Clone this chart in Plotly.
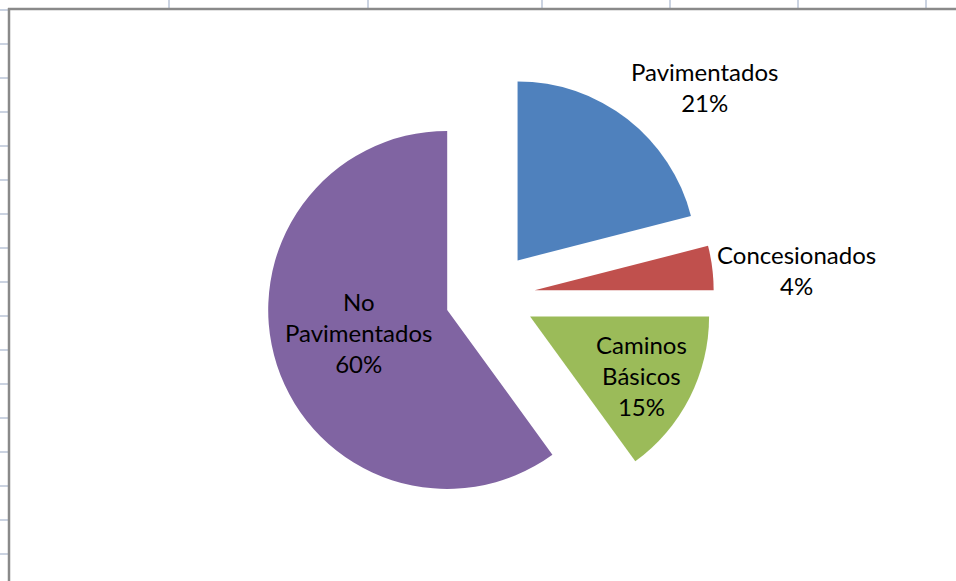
import math
import plotly.graph_objects as go

# ---------------- Data ----------------
categories = ["Pavimentados", "Concesionados", "Caminos Básicos", "No Pavimentados"]
label_lines = ["Pavimentados", "Concesionados", "Caminos<br>Básicos", "No<br>Pavimentados"]
values = [21, 4, 15, 60]
colors = ["#4F81BD", "#C0504D", "#9BBB59", "#8064A2"]
label_modes = ["outside", "outside", "inside", "inside"]
inside_radius_factor = [0.0, 0.0, 0.70, 0.51]
label_nudge_px = [(0, 2), (0, 2), (0, 2), (-2, -6)]

# Spreadsheet grid stubs visible around the chart frame (pixel positions)
grid_cols_px = [169, 368, 542, 670, 798, 926]
grid_rows_px = [10, 44, 78, 112, 146, 180, 214, 248, 282, 316, 350, 384, 418, 452, 486, 520, 554]

# ---------------- Layout constants ----------------
W, H = 956, 581
FONT = "Lato"
FS = 24
CX, CY = 490.0, 296.0      # pie centre (px)
R = 179.0                  # slice radius (px)
PULL = 0.2514              # explosion as a fraction of radius
GAP = 3.0


def px_x(x):
    return x / W


def px_y(y):
    return 1 - y / H


ext = R * (1 + PULL)
domain = dict(x=[px_x(CX - ext), px_x(CX + ext)], y=[px_y(CY + ext), px_y(CY - ext)])

fig = go.Figure()
fig.add_trace(go.Pie(
    labels=categories,
    values=values,
    marker=dict(colors=colors, line=dict(width=0)),
    pull=[PULL] * len(values),
    sort=False,
    direction="clockwise",
    rotation=0,
    textinfo="none",
    domain=domain,
    hoverinfo="label+percent",
    showlegend=False,
))

# Data labels placed from the pie geometry
total = float(sum(values))
annotations = []
cum = 0.0
for lines, v, mode, f, (ndx, ndy) in zip(label_lines, values, label_modes,
                                         inside_radius_factor, label_nudge_px):
    mid = math.radians((cum + v / 2.0) / total * 360.0)
    cum += v
    ux, uy = math.sin(mid), -math.cos(mid)
    ax, ay = CX + PULL * R * ux, CY + PULL * R * uy
    txt = f"{lines}<br>{round(100 * v / total)}%"
    if mode == "inside":
        x, y = ax + f * R * ux, ay + f * R * uy
        xa, ya = "center", "middle"
    else:
        x, y = ax + (R + GAP) * ux, ay + (R + GAP) * uy
        xa = "left" if ux > 0 else "right"
        ya = "middle" if abs(uy) < 0.5 else ("bottom" if uy < 0 else "top")
    annotations.append(dict(
        x=px_x(x + ndx), y=px_y(y + ndy), xref="paper", yref="paper",
        text=txt, showarrow=False, xanchor=xa, yanchor=ya, align="center",
        font=dict(family=FONT, size=FS, color="#000000"),
    ))

shapes = []
grid_color = "#CBD3E1"
for gx in grid_cols_px:
    shapes.append(dict(type="line", xref="paper", yref="paper",
                       x0=px_x(gx), x1=px_x(gx), y0=1, y1=px_y(8),
                       line=dict(color=grid_color, width=2)))
for gy in grid_rows_px:
    shapes.append(dict(type="line", xref="paper", yref="paper",
                       x0=0, x1=px_x(8), y0=px_y(gy), y1=px_y(gy),
                       line=dict(color=grid_color, width=2)))
# chart frame
shapes.append(dict(type="line", xref="paper", yref="paper",
                   x0=px_x(8), x1=1.0, y0=px_y(9), y1=px_y(9),
                   line=dict(color="#8A8A8A", width=2.5)))
shapes.append(dict(type="line", xref="paper", yref="paper",
                   x0=px_x(9), x1=px_x(9), y0=px_y(8), y1=0,
                   line=dict(color="#8A8A8A", width=2.5)))

fig.update_layout(
    width=W, height=H,
    margin=dict(l=0, r=0, t=0, b=0),
    paper_bgcolor="#FFFFFF",
    plot_bgcolor="#FFFFFF",
    shapes=shapes,
    annotations=annotations,
    font=dict(family=FONT, size=FS, color="#000000"),
)

# place the figure flush with the page corner (no default body margin)
post = """
document.documentElement.style.margin = '0';
document.body.style.margin = '0';
document.body.style.overflow = 'hidden';
"""

fig.write_html("out.html", post_script=post, config={"displayModeBar": False})
